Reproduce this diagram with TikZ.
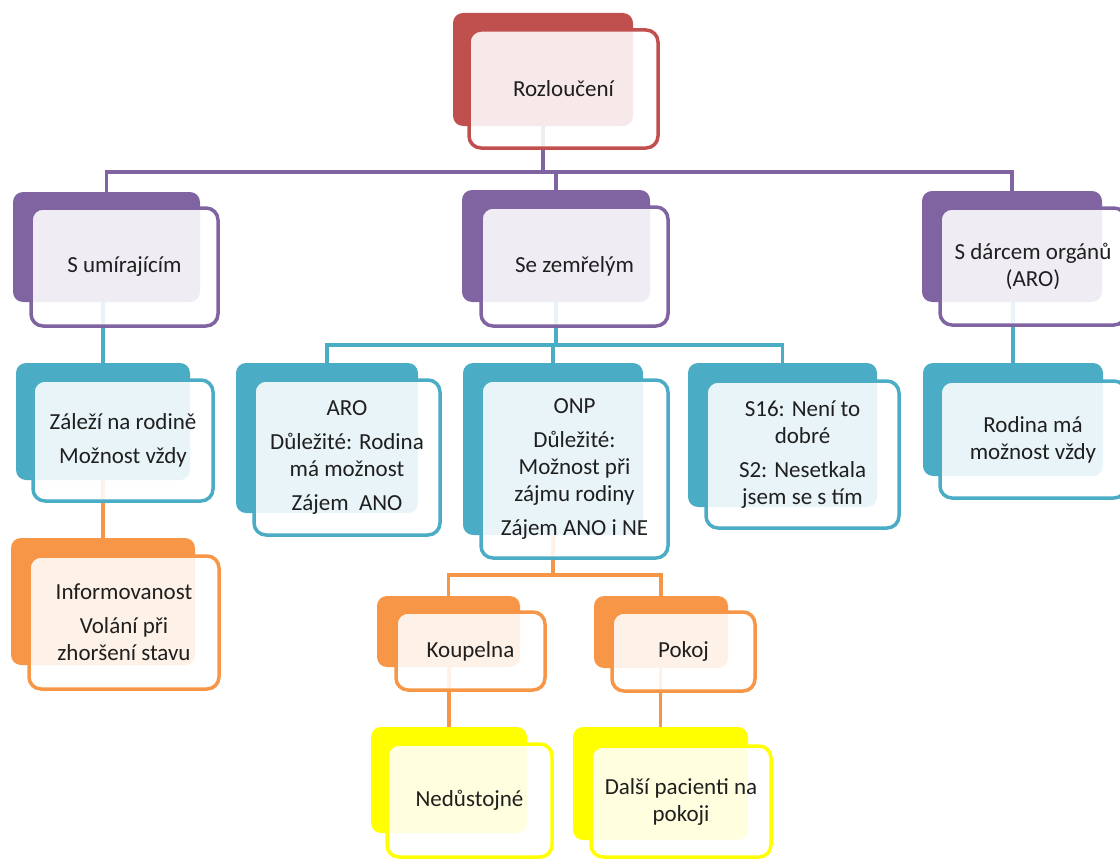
\documentclass[tikz,border=0pt]{standalone}
\usepackage{fontspec}
\setmainfont{Carlito}
\usepackage{tikz}
\pgfdeclarelayer{nodelayer}
\pgfdeclarelayer{edgelayer}
\pgfsetlayers{edgelayer,nodelayer,main}
\definecolor{redA}{HTML}{C0504D}
\definecolor{purpleA}{HTML}{8064A2}
\definecolor{tealA}{HTML}{4BACC6}
\definecolor{orangeA}{HTML}{F79646}
\definecolor{yellowA}{HTML}{FFFF00}
\definecolor{textA}{HTML}{1F1F1F}
\tikzset{
    backbox/.style = {inner sep=0pt, rounded corners=10pt},
    frontbox/.style = {inner sep=0pt, rounded corners=12pt, line width=3.5pt, fill=white,
        fill opacity=0.88, text opacity=1, text=textA, align=center,
        font=\fontsize{23}{27}\selectfont},
    conn/.style = {line width=3.5pt}
}

\begin{document}
\begin{tikzpicture}[x=1pt, y=-1pt]
    \useasboundingbox (0, 0) rectangle (1120, 859);
    \clip (0, 0) rectangle (1120, 859);
    \begin{pgfonlayer}{nodelayer}
        % level 0
        \node [style=backbox, fill=redA, minimum width=180, minimum height=113] (0) at (543, 69.5) {};
        \node [style=frontbox, draw=redA, minimum width=189, minimum height=118] (0t) at (563.5, 89) {Rozloučení};
        % level 1
        \node [style=backbox, fill=purpleA, minimum width=187, minimum height=110] (1) at (106.5, 247) {};
        \node [style=frontbox, draw=purpleA, minimum width=187, minimum height=118] (1t) at (124.5, 267) {S umírajícím};
        \node [style=backbox, fill=purpleA, minimum width=188, minimum height=112] (2) at (556, 246) {};
        \node [style=frontbox, draw=purpleA, minimum width=187, minimum height=119] (2t) at (574.5, 266.5) {Se zemřelým};
        \node [style=backbox, fill=purpleA, minimum width=180, minimum height=111] (3) at (1012, 246.5) {};
        \node [style=frontbox, draw=purpleA, minimum width=186, minimum height=117] (3t) at (1033, 266.5) {S dárcem orgánů\\(ARO)};
        % level 2
        \node [style=backbox, fill=tealA, minimum width=174, minimum height=117] (4) at (103, 421.5) {};
        \node [style=frontbox, draw=tealA, minimum width=180, minimum height=121] (4t) at (123, 440.5) {Záleží na rodině\\[7pt]Možnost vždy};
        \node [style=backbox, fill=tealA, minimum width=182, minimum height=150] (5) at (327, 438) {};
        \node [style=frontbox, draw=tealA, minimum width=186, minimum height=155] (5t) at (347, 457.5) {ARO\\[7pt]Důležité: Rodina\\má možnost\\[7pt]Zájem~~ANO};
        \node [style=backbox, fill=tealA, minimum width=180, minimum height=172] (6) at (553, 449) {};
        \node [style=frontbox, draw=tealA, minimum width=187, minimum height=178] (6t) at (574.5, 469) {ONP\\[7pt]Důležité:\\Možnost při\\zájmu rodiny\\[7pt]Zájem ANO i NE};
        \node [style=backbox, fill=tealA, minimum width=189, minimum height=144] (7) at (782.5, 435) {};
        \node [style=frontbox, draw=tealA, minimum width=193, minimum height=147] (7t) at (802.5, 454.5) {S16: Není to\\dobré\\[7pt]S2: Nesetkala\\jsem se s tím};
        \node [style=backbox, fill=tealA, minimum width=180, minimum height=113] (8) at (1013, 419.5) {};
        \node [style=frontbox, draw=tealA, minimum width=186, minimum height=117] (8t) at (1033, 439.5) {Rodina má\\možnost vždy};
        % level 3
        \node [style=backbox, fill=orangeA, minimum width=184, minimum height=127] (9) at (103, 601.5) {};
        \node [style=frontbox, draw=orangeA, minimum width=190, minimum height=133] (9t) at (124, 622.5) {Informovanost\\[7pt]Volání při\\zhoršení stavu};
        \node [style=backbox, fill=orangeA, minimum width=143, minimum height=71] (10) at (448.5, 631.5) {};
        \node [style=frontbox, draw=orangeA, minimum width=149, minimum height=78] (10t) at (470.5, 651) {Koupelna};
        \node [style=backbox, fill=orangeA, minimum width=134, minimum height=72] (11) at (661, 632) {};
        \node [style=frontbox, draw=orangeA, minimum width=143, minimum height=79] (11t) at (683.5, 651.5) {Pokoj};
        % level 4
        \node [style=backbox, fill=yellowA, minimum width=156, minimum height=106] (12) at (449, 780) {};
        \node [style=frontbox, draw=yellowA, minimum width=165, minimum height=113] (12t) at (469.5, 800.5) {Nedůstojné};
        \node [style=backbox, fill=yellowA, minimum width=175, minimum height=113] (13) at (660.5, 783.5) {};
        \node [style=frontbox, draw=yellowA, minimum width=180, minimum height=111] (13t) at (681, 801.5) {Další pacienti na\\pokoji};
    \end{pgfonlayer}
    \coordinate (b1) at (0, 172);
    \coordinate (b2) at (0, 345);
    \coordinate (b3) at (0, 575);
    \begin{pgfonlayer}{edgelayer}
        % purple bus
        \draw [style=conn, purpleA] (0.south) |- (b1 -| 1.north) -- (1.north);
        \draw [style=conn, purpleA] (0.south) |- (b1 -| 2.north) -- (2.north);
        \draw [style=conn, purpleA] (0.south) |- (b1 -| 3.north) -- (3.north);
        % teal
        \draw [style=conn, tealA] (4.north |- 1.south) -- (4.north);
        \draw [style=conn, tealA] (2.south) |- (b2 -| 5.north) -- (5.north);
        \draw [style=conn, tealA] (2.south) |- (b2 -| 6.north) -- (6.north);
        \draw [style=conn, tealA] (2.south) |- (b2 -| 7.north) -- (7.north);
        \draw [style=conn, tealA] (8.north |- 3.south) -- (8.north);
        % orange
        \draw [style=conn, orangeA] (9.north |- 4.south) -- (9.north);
        \draw [style=conn, orangeA] (6.south) |- (b3 -| 10.north) -- (10.north);
        \draw [style=conn, orangeA] (6.south) |- (b3 -| 11.north) -- (11.north);
        % to yellow
        \draw [style=conn, orangeA] (12.north |- 10.south) -- (12.north);
        \draw [style=conn, orangeA] (13.north |- 11.south) -- (13.north);
    \end{pgfonlayer}
\end{tikzpicture}
\end{document}
